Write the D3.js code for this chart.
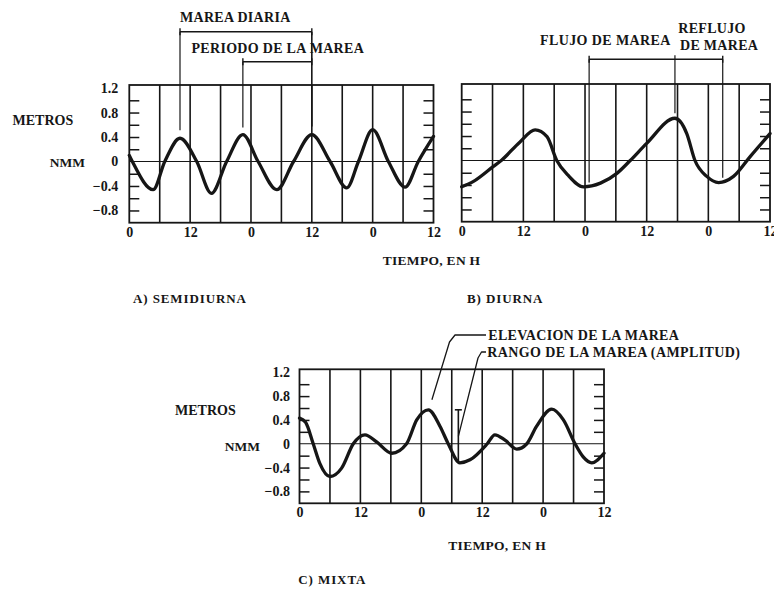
<!DOCTYPE html>
<html>
<head>
<meta charset="utf-8">
<script src="https://cdn.jsdelivr.net/npm/d3@7"></script>
<style>
  html, body { margin: 0; padding: 0; background: #fff; }
  svg text { font-family: "Liberation Serif", "Times New Roman", serif; font-weight: bold; fill: #161616; }
</style>
</head>
<body>
<svg id="chart" width="774" height="590"></svg>
<script>
// ---- Tide records: hours since start, height above mean sea level (m) ----
const semiHours   = [0, 0.6, 4.7, 7.0, 10.0, 13.3, 16.2, 19.2, 22.4, 25.4, 29.1, 32.4, 36.0, 39.6, 42.9, 45.2, 48.0, 51.1, 54.4, 57.0, 60];
const semiHeights = [0.10, 0, -0.46, 0, 0.38, 0, -0.52, 0, 0.44, 0, -0.46, 0, 0.44, 0, -0.43, 0, 0.52, 0, -0.42, 0, 0.41];

const diurHours   = [0, 2.3, 6.1, 7.7, 11.3, 14.3, 16.6, 18.5, 20.7, 23.7, 27.0, 30.2, 32.8, 36.0, 41.5, 43.8, 45.4, 47.7, 50.0, 52.9, 56.1, 60];
const diurHeights = [-0.43, -0.34, -0.10, 0, 0.30, 0.50, 0.39, 0, -0.24, -0.43, -0.37, -0.21, 0, 0.28, 0.69, 0.44, 0, -0.26, -0.36, -0.26, 0.06, 0.44];

const mixHours    = [0, 1.2, 2.7, 4.0, 6.0, 8.3, 10.6, 12.9, 15.2, 18.2, 21.1, 23.1, 25.4, 27.7, 29.3, 31.6, 33.6, 37.0, 38.5, 40.5, 42.8, 44.8, 46.7, 49.7, 52.0, 54.3, 55.9, 57.6, 60];
const mixHeights  = [0.43, 0.36, 0, -0.33, -0.55, -0.41, 0, 0.15, 0.03, -0.16, 0, 0.40, 0.57, 0.29, 0, -0.32, -0.27, 0, 0.15, 0.06, -0.09, 0, 0.29, 0.58, 0.40, 0, -0.22, -0.32, -0.16];

// ---- Axis ticks ----
const hourTicks   = [0, 12, 24, 36, 48, 60];
const clockLabels = ["0", "12", "0", "12", "0", "12"];
const gridHours   = [6, 12, 18, 24, 30, 36, 42, 48, 54];
const heightTicks = [-0.8, -0.4, 0, 0.4, 0.8, 1.2];
const heightLabels = ["\u22120.8", "\u22120.4", "0", "0.4", "0.8", "1.2"];
const minorTicks  = [-0.8, -0.6, -0.4, -0.2, 0.2, 0.4, 0.6, 0.8, 1.0];

// ---- Annotated instants (hours) ----
const dailyTideSpan  = [10.0, 36.0];   // MAREA DIARIA
const tidePeriodSpan = [22.4, 36.0];   // PERIODO DE LA MAREA
const floodSpan      = [24.8, 41.5];   // FLUJO DE MAREA
const ebbSpan        = [41.5, 50.8];   // REFLUJO DE MAREA
const highWaterHour  = 25.4;           // ELEVACION DE LA MAREA
const lowWaterHour   = 31.6;
const rangeBarHour   = 31.3;           // RANGO DE LA MAREA

const ink = "#161616";
const svg = d3.select("#chart");
svg.append("rect").attr("width", 774).attr("height", 590).attr("fill", "#fff");

function heightAt(hours, heights, t) {
  const i = d3.bisectLeft(hours, t);
  if (hours[i] === t) return heights[i];
  const t0 = hours[i - 1], t1 = hours[i];
  return heights[i - 1] + (heights[i] - heights[i - 1]) * (t - t0) / (t1 - t0);
}

function styleAxis(g, size) {
  g.attr("font-family", null).attr("font-size", null).attr("color", ink);
  g.select(".domain").remove();
  g.selectAll("text").style("font-size", size + "px");
}

function drawPanel(cfg) {
  const x = d3.scaleLinear().domain([0, 60]).range([cfg.left, cfg.right]);
  const y = d3.scaleLinear().domain([-1.0, 1.25]).range([cfg.bottom, cfg.top]);
  const g = svg.append("g");

  // vertical hour lines
  g.selectAll("line.grid").data(gridHours).join("line")
    .attr("x1", d => x(d)).attr("x2", d => x(d))
    .attr("y1", cfg.top).attr("y2", cfg.bottom)
    .attr("stroke", ink).attr("stroke-width", 1.6);

  // mean sea level
  g.append("line")
    .attr("x1", cfg.left).attr("x2", cfg.right)
    .attr("y1", y(0)).attr("y2", y(0))
    .attr("stroke", ink).attr("stroke-width", 1);

  // inner ticks on both sides
  const tl = g.append("g").attr("transform", `translate(${cfg.left},0)`)
    .call(d3.axisLeft(y).tickValues(minorTicks).tickSize(-10).tickFormat(""));
  styleAxis(tl, 14);
  tl.selectAll("line").attr("stroke-width", 1.5);
  const tr = g.append("g").attr("transform", `translate(${cfg.right},0)`)
    .call(d3.axisRight(y).tickValues(minorTicks).tickSize(-10).tickFormat(""));
  styleAxis(tr, 14);
  tr.selectAll("line").attr("stroke-width", 1.5);

  // frame
  g.append("rect")
    .attr("x", cfg.left).attr("y", cfg.top)
    .attr("width", cfg.right - cfg.left).attr("height", cfg.bottom - cfg.top)
    .attr("fill", "none").attr("stroke", ink).attr("stroke-width", 1.8);

  // tide curve
  const pts = cfg.hours.map((h, i) => [h, cfg.heights[i]]);
  g.append("path").datum(pts)
    .attr("d", d3.line().x(d => x(d[0])).y(d => y(d[1])).curve(d3.curveMonotoneX))
    .attr("fill", "none").attr("stroke", ink).attr("stroke-width", 3.3)
    .attr("stroke-linejoin", "round").attr("stroke-linecap", "round");

  // hour labels
  const xa = g.append("g").attr("transform", `translate(0,${cfg.bottom})`)
    .call(d3.axisBottom(x).tickValues(hourTicks).tickSize(0).tickPadding(4)
      .tickFormat((d, i) => clockLabels[i]));
  styleAxis(xa, 14);

  // height labels
  if (cfg.yLabels) {
    const ya = g.append("g").attr("transform", `translate(${cfg.left},0)`)
      .call(d3.axisLeft(y).tickValues(heightTicks).tickSize(0).tickPadding(cfg.labelPad)
        .tickFormat((d, i) => heightLabels[i]));
    styleAxis(ya, 14);
  }
  return { x, y };
}

function text(str, x, y, size, anchor, spacing) {
  return svg.append("text").attr("x", x).attr("y", y)
    .attr("text-anchor", anchor || "start")
    .style("font-size", size + "px")
    .style("letter-spacing", (spacing || 0) + "px")
    .text(str);
}

function seg(x1, y1, x2, y2, w) {
  svg.append("line").attr("x1", x1).attr("y1", y1).attr("x2", x2).attr("y2", y2)
    .attr("stroke", ink).attr("stroke-width", w || 1.2);
}

function bracket(xa, xb, yy) {
  seg(xa, yy, xb, yy, 1.4);
  seg(xa, yy - 3.5, xa, yy + 3.5, 1.4);
  seg(xb, yy - 3.5, xb, yy + 3.5, 1.4);
}

// ---- A) semidiurnal ----
const A = drawPanel({ left: 129.3, right: 433.5, top: 85, bottom: 222.7,
  hours: semiHours, heights: semiHeights, yLabels: true, labelPad: 11 });
text("METROS", 12.5, 125, 14);
text("NMM", 85, 166.5, 13.5, "end");

const brA1 = 31.7, brA2 = 61.7;
bracket(A.x(dailyTideSpan[0]), A.x(dailyTideSpan[1]), brA1);
bracket(A.x(tidePeriodSpan[0]), A.x(tidePeriodSpan[1]), brA2);
seg(A.x(dailyTideSpan[0]), brA1, A.x(dailyTideSpan[0]), A.y(heightAt(semiHours, semiHeights, dailyTideSpan[0])) - 8);
seg(A.x(tidePeriodSpan[0]), brA2, A.x(tidePeriodSpan[0]), A.y(heightAt(semiHours, semiHeights, tidePeriodSpan[0])) - 7);
seg(A.x(dailyTideSpan[1]), brA1, A.x(dailyTideSpan[1]), A.y(heightAt(semiHours, semiHeights, dailyTideSpan[1])) - 8, 1.6);
text("MAREA DIARIA", 180, 21.7, 14, "start", 0.3);
text("PERIODO DE LA MAREA", 191.5, 53.3, 14, "start", 0.3);

// ---- B) diurnal ----
const B = drawPanel({ left: 461.7, right: 770, top: 84, bottom: 221.7,
  hours: diurHours, heights: diurHeights, yLabels: false });
const brB = 59.3;
bracket(B.x(floodSpan[0]), B.x(ebbSpan[1]), brB);
seg(B.x(floodSpan[0]), brB, B.x(floodSpan[0]), B.y(heightAt(diurHours, diurHeights, floodSpan[0])) - 3);
seg(B.x(floodSpan[1]), brB - 4, B.x(floodSpan[1]), B.y(heightAt(diurHours, diurHeights, floodSpan[1])) - 5);
seg(B.x(ebbSpan[1]), brB, B.x(ebbSpan[1]), B.y(heightAt(diurHours, diurHeights, ebbSpan[1])) - 3);
text("FLUJO DE MAREA", 540, 45, 14, "start", 0.4);
text("REFLUJO", 678.3, 33.3, 14, "start", 0.3);
text("DE MAREA", 680, 50, 14, "start", 0.3);

text("TIEMPO, EN H", 382.7, 265, 13.5, "start", 0.3);
text("A) SEMIDIURNA", 133, 303, 13, "start", 0.9);
text("B) DIURNA", 467, 303, 13, "start", 0.9);

// ---- C) mixed ----
const C = drawPanel({ left: 299.5, right: 604, top: 369.3, bottom: 503.3,
  hours: mixHours, heights: mixHeights, yLabels: true, labelPad: 9.5 });
text("METROS", 175, 415, 14);
text("NMM", 260, 451, 13.5, "end");

const highV = heightAt(mixHours, mixHeights, highWaterHour);
const lowV  = heightAt(mixHours, mixHeights, lowWaterHour);
const rx = C.x(rangeBarHour);
seg(rx, C.y(highV), rx, C.y(lowV), 1.6);
seg(rx - 3.5, C.y(highV), rx + 3.5, C.y(highV), 1.6);

const leader = d3.line();
svg.append("path")
  .attr("d", leader([[486, 335], [455, 335], [449.5, 342], [C.x(highWaterHour) + 3.5, C.y(highV) - 10]]))
  .attr("fill", "none").attr("stroke", ink).attr("stroke-width", 1.3).attr("stroke-linejoin", "round");
svg.append("path")
  .attr("d", leader([[486, 352], [481.5, 352], [478, 358], [rx, (C.y(highV) + C.y(lowV)) / 2]]))
  .attr("fill", "none").attr("stroke", ink).attr("stroke-width", 1.3).attr("stroke-linejoin", "round");
text("ELEVACION DE LA MAREA", 488.3, 339.5, 14, "start", 0.3);
text("RANGO DE LA MAREA (AMPLITUD)", 487.3, 356.5, 14, "start", 0.4);

text("TIEMPO, EN H", 448.3, 550, 13.5, "start", 0.3);
text("C) MIXTA", 298.3, 584, 13, "start", 0.9);
</script>
</body>
</html>
